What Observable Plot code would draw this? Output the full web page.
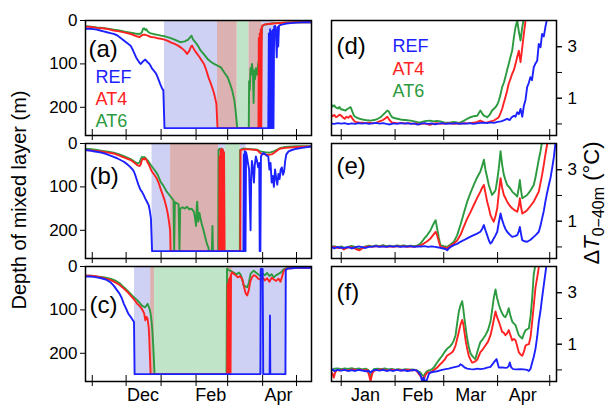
<!DOCTYPE html>
<html><head><meta charset="utf-8">
<script src="https://cdn.jsdelivr.net/npm/d3@7"></script>
<script src="https://cdn.jsdelivr.net/npm/@observablehq/plot@0.6"></script>
<style>
body{margin:0;background:#fff;}
#chart{position:relative;width:610px;height:416px;overflow:hidden;font-family:"Liberation Sans",Arial,sans-serif;color:#000;}
#chart svg{position:absolute;}
.vlab{position:absolute;white-space:nowrap;transform:translate(-50%,-50%) rotate(-90deg);}
</style></head><body><div id="chart"></div>
<script>
// ---- data (day numbers: 0 = 1 Jan; values: depth in m or ΔT in °C) ----
const seriesNames = ["REF", "AT4", "AT6"];
const seriesColors = {REF: "#1c22ff", AT4: "#ff2222", AT6: "#2c9a3e"};
const shadeColors = {REF: "#cfd1f4", AT4: "#dcb1b1", AT6: "#bfe4c7"};
const maxDepth = 248;
const panelTags = ["(a)", "(b)", "(c)", "(d)", "(e)", "(f)"];
const leftTickDays = [-61, -31, 0, 31, 59, 90, 120];
const rightTickDays = [0, 31, 59, 90, 120];
const leftMonthNames = ["Dec", "Feb", "Apr"];
const leftMonthDays = [-16, 44, 104];
const rightMonthNames = ["Jan", "Feb", "Mar", "Apr"];
const rightMonthDays = [14, 44, 74.5, 104.5];
const depthTicks = [0, 100, 200];
const dtTicks = [0, 1, 2, 3];
const dtLabelTicks = [1, 3];

// panel (a) mixed-layer depth
const refA = [[-67,19],[-63,19],[-60,20],[-57,21],[-54,23],[-51,25],[-48,27],[-45,29],[-42,31],[-39,34],[-37,38],[-35,42],[-33,46],[-31,50],[-29,54],[-27,58],[-26,63],[-25,68],[-24,74],[-23,80],[-22,86],[-21,90],[-20,94],[-19,98],[-18,100],[-17,97],[-16,94],[-15,92],[-14,90],[-13,93],[-12,96],[-11,98],[-10,101],[-9,106],[-8,111],[-7,114],[-6,117],[-5,120],[-4,125],[-3,131],[-2,138],[-1,145],[0,151],[1,157],[2,161],[3,248],[95,248],[95.5,30],[96,248],[96.6,20],[97.2,248],[97.8,25],[98.4,248],[99,22],[99.6,248],[100.2,14],[101,12],[101.8,35],[102.5,85],[103.1,15],[103.8,60],[104.5,12],[106,10],[108,9],[111,7],[115,6],[120,5],[126,4],[133,4]];
const at4A = [[-67,14],[-62,15],[-57,17],[-52,18],[-47,20],[-42,23],[-37,25],[-32,28],[-27,31],[-24,34],[-21,37],[-19,38],[-18,36],[-17,34],[-16,33],[-15,33],[-14,33],[-12,35],[-9,38],[-6,39],[-3,41],[0,42],[3,44],[6,47],[9,51],[12,54],[15,58],[18,63],[21,70],[23,77],[25,70],[26.5,60],[27.5,58],[28.5,63],[30,70],[32,77],[34,84],[36,92],[38,100],[40,114],[42,131],[44,145],[46,160],[47,169],[48,180],[49,192],[50,248],[86.3,248],[86.6,40],[87,248],[87.4,30],[87.8,248],[88.3,20],[88.8,248],[89.3,14],[90,11],[92,9],[95,8],[100,7],[110,5],[120,4],[133,4]];
const at6A = [[-67,13],[-62,14],[-57,16],[-52,17],[-47,19],[-42,21],[-37,23],[-32,26],[-27,28],[-23,30],[-20,31],[-18,30],[-17,27],[-16,19],[-15,18],[-14,22],[-13,20],[-12,25],[-10,29],[-7,31],[-3,33],[0,35],[4,37],[8,40],[12,44],[17,50],[21,48],[24,44],[26,38],[27,35],[28,42],[29,46],[31,52],[33,60],[35,69],[38,78],[41,88],[44,95],[47,100],[50,104],[53,108],[56,120],[59,131],[61,145],[63,161],[65,185],[66,207],[67.5,248],[77.7,248],[78,140],[78.6,160],[79.2,110],[79.8,125],[80.5,100],[81.3,115],[82,190],[82.6,115],[83.3,135],[84,110],[85,125],[86,100],[87,90],[88,70],[89,40],[89.6,14],[91,10],[95,8],[100,6],[110,5],[120,4],[133,4]];
const shadeA = [[3,50,"REF"],[50,67.5,"AT4"],[67.5,77.7,"AT6"],[77.7,89.3,"AT4"],[89.3,100.2,"REF"]];

// panel (b)
const refB = [[-67,15],[-63,16],[-60,18],[-57,19],[-53,21],[-49,24],[-45,28],[-42,31],[-39,34],[-36,38],[-33,42],[-30,48],[-27,55],[-25,61],[-24,65],[-23,72],[-22,80],[-21,88],[-20,96],[-19,102],[-18,108],[-17,111],[-16,116],[-15,121],[-14,127],[-13,132],[-12,137],[-11,142],[-10,155],[-9,173],[-8,248],[73,248],[73.4,25],[73.8,248],[74.3,18],[74.8,248],[75.3,20],[76,28],[77,45],[78,60],[78.7,140],[79.3,200],[79.8,90],[80.5,40],[81.5,60],[82.3,90],[83,50],[84,30],[85,40],[86,55],[87,45],[87.4,248],[88,248],[88.5,30],[89.5,25],[90.5,22],[92,24],[93.5,28],[95,30],[96,60],[97,45],[98,90],[99,75],[100,100],[101,60],[102,80],[103,95],[104,70],[105,82],[106,60],[107,55],[108,72],[109,65],[110,40],[111,25],[113,18],[116,15],[120,12],[125,10],[133,7]];
const at4B = [[-67,15],[-62,16],[-57,17],[-52,19],[-47,21],[-42,23],[-37,28],[-32,33],[-27,38],[-24,44],[-21,50],[-19,52],[-18,48],[-17,38],[-16,35],[-15,37],[-14,34],[-13,38],[-12,44],[-11,48],[-10,54],[-9,60],[-8,65],[-6,72],[-4,80],[-2,92],[-0.5,104],[1,115],[3,130],[5,150],[6,163],[7,180],[8,200],[8.4,248],[51.5,248],[51.8,30],[52.3,248],[52.7,15],[53.3,248],[53.8,12],[54.3,248],[54.8,15],[55.3,248],[55.8,20],[56.3,248],[70.2,248],[70.4,15],[72,14],[75,13],[80,14],[85,15],[87,20],[89,24],[92,25],[95,26],[98,25],[100,22],[102,18],[105,12],[110,10],[120,8],[133,7]];
const at6B = [[-67,12],[-62,13],[-57,15],[-52,17],[-47,19],[-42,21],[-37,25],[-32,30],[-27,36],[-24,41],[-21,46],[-19,44],[-18,36],[-17,31],[-16,33],[-15,31],[-14,33],[-13,36],[-11,42],[-9,50],[-7,57],[-5,64],[-3,72],[-0.5,88],[2,97],[5,111],[8,121],[11,131],[11.6,248],[12.2,135],[14,138],[15.5,140],[16.3,248],[16.9,150],[19,147],[21,150],[23,146],[25,152],[27,150],[29,157],[30,170],[31,190],[31.6,145],[32,134],[33,180],[34,160],[35,173],[36,185],[38,204],[39,215],[40,225],[41,234],[42,240],[42.3,248],[45,248],[45.5,190],[46,248],[50.6,248],[50.9,15],[51.8,12],[52.8,15],[53.8,12],[54.8,15],[55.6,248],[69.8,248],[70,15],[72,12],[75,12],[80,13],[85,14],[88,18],[92,20],[96,21],[100,18],[103,14],[106,10],[110,8],[120,6],[133,6]];
const shadeB = [[-8,8.4,"REF"],[8.4,51,"AT4"],[51,57,"REF"],[57,70.2,"AT6"],[70.2,75.3,"REF"]];

// panel (c)
const refC = [[-67,23],[-63,23],[-60,24],[-57,25],[-53,27],[-49,30],[-45,36],[-42,44],[-39,55],[-37,62],[-35,72],[-33,86],[-31,97],[-29,109],[-27,116],[-26,120],[-25,124],[-24,128],[-23.5,248],[88,248],[88.3,6],[89,5],[90,6],[90.3,130],[90.5,248],[96.2,248],[96.5,113],[96.8,248],[110.2,248],[110.5,8],[112,5],[116,4],[120,3],[126,3],[133,3]];
const at4C = [[-67,21],[-63,21],[-60,22],[-57,23],[-53,25],[-49,28],[-45,31],[-41,36],[-37,42],[-33,51],[-30,58],[-27,67],[-24,76],[-21,86],[-19,91],[-17,98],[-15,108],[-14,124],[-13,116],[-12,120],[-11,140],[-10.5,163],[-10,200],[-9.3,248],[58.6,248],[59,40],[59.5,248],[60,30],[60.5,248],[61,25],[61.5,248],[62,20],[63,13],[64,16],[66,20],[68,25],[70,22],[72,30],[73.3,45],[75,62],[76.3,67],[77.7,55],[79,35],[80.5,25],[82.2,20],[84,22],[86,28],[88,30],[90,25],[92,32],[94,27],[96,35],[98,26],[100,30],[102,33],[104,28],[105.8,35],[107,25],[108.8,10],[111,5],[115,4],[120,3],[133,3]];
const at6C = [[-67,21],[-63,21],[-60,22],[-57,23],[-53,24],[-49,26],[-45,28],[-41,32],[-37,38],[-33,48],[-30,55],[-27,63],[-24,71],[-21,78],[-19,84],[-17,90],[-15,93],[-14,94],[-13,90],[-12,86],[-11,92],[-10,100],[-9.3,109],[-8.5,125],[-7.8,147],[-7,180],[-6.4,215],[-5.8,248],[58,248],[58.4,5],[60,8],[61.5,10],[63,12],[65,15],[67,18],[69,14],[70.4,18],[72,30],[73.3,44],[75,46],[76.3,48],[77.7,38],[79.3,17],[81,12],[82.2,10],[84,14],[86,18],[88,22],[90,16],[92,20],[94,15],[96,22],[98,18],[100,25],[102,20],[104,17],[106,14],[108.8,6],[111,4],[115,3],[120,3],[133,3]];
const shadeC = [[-23.5,-9.3,"REF"],[-9.3,-5.8,"AT4"],[-5.8,58.6,"AT6"],[58.6,63,"AT4"],[63,110.3,"REF"]];

// panel (d) ΔT 0-40 m
const refD = [[-6,0.02],[-4,0.0],[-2,0.03],[0,0.01],[2,0.03],[4,-0.01],[6,0.02],[8,0.0],[10,0.03],[12,0.01],[14,0.03],[16,0.0],[18,0.02],[20,0.04],[22,0.01],[24,0.03],[26,0.0],[28,-0.02],[30,0.02],[32,0.0],[34,0.03],[36,0.01],[38,0.03],[40,0.0],[42,0.02],[44,-0.03],[46,0.01],[48,0.03],[50,0.0],[52,0.02],[54,-0.02],[56,0.01],[58,0.03],[60,0.0],[62,0.02],[64,0.01],[66,0.03],[68,0.0],[70,0.02],[72,0.01],[74,0.03],[76,0.0],[78,0.02],[80,0.04],[82,0.05],[84,0.03],[86,0.06],[88,0.04],[90,0.08],[92,0.1],[93.5,0.14],[95.5,0.2],[97,0.15],[98,0.25],[99.4,0.32],[100.3,0.28],[101.3,0.45],[102.2,0.38],[103.2,0.58],[104.2,0.28],[105.1,0.7],[106.1,0.95],[107,1.43],[108,1.6],[108.9,1.82],[109.8,1.7],[110.8,2.2],[111.8,2.35],[112.8,2.46],[113.7,3.11],[114.7,2.98],[115.6,3.5],[116.6,3.4],[117.5,3.76],[118.5,4.1],[120,4.5]];
const at4D = [[-6,0.39],[-5,0.3],[-4,0.35],[-3,0.26],[-2,0.3],[-1,0.36],[0,0.32],[1,0.25],[2,0.2],[3,0.28],[4,0.24],[5.4,0.32],[6.5,0.2],[8,0.08],[10,0.06],[12,0.05],[14,0.03],[16,0.05],[18,0.02],[20,0.04],[22,0.1],[24,0.15],[25.5,0.22],[26.5,0.28],[27.5,0.18],[29,0.06],[31,0.04],[33,0.02],[35,0.04],[37,0.01],[39,0.03],[41,0.0],[43,0.02],[45,-0.02],[47,0.02],[49,0.0],[51,-0.04],[53,0.01],[55,0.03],[57,0.0],[59,0.02],[61,0.01],[63,0.03],[65,0.0],[67,0.02],[69,0.01],[71,0.03],[73,0.02],[75,0.04],[77,0.06],[78.3,0.08],[80,0.13],[81,0.1],[82.5,0.05],[84,0.06],[86,0.1],[87.8,0.13],[89,0.18],[90.7,0.26],[91.7,0.42],[92.6,0.58],[93.5,0.8],[94.5,1.04],[95.5,1.3],[96.4,1.56],[97.4,1.75],[98.4,1.95],[99.4,2.1],[100.3,2.33],[101.3,2.6],[102.2,2.85],[103.2,2.4],[104.2,2.98],[105.1,3.5],[106.1,4.02],[107,4.4]];
const at6D = [[-6,0.78],[-5,0.68],[-4,0.72],[-3.3,0.65],[-2,0.6],[-1,0.66],[-0.4,0.58],[1,0.55],[2.5,0.52],[3.5,0.58],[4.5,0.62],[5.4,0.65],[6.3,0.5],[7.3,0.32],[9,0.24],[11.1,0.19],[13,0.16],[15,0.14],[16.9,0.13],[19,0.15],[21,0.2],[22.6,0.26],[24,0.35],[25.5,0.45],[26.5,0.52],[27.4,0.48],[28.4,0.35],[29.3,0.26],[31,0.22],[33,0.19],[35,0.16],[37,0.15],[39.9,0.13],[42,0.1],[44,0.07],[45.6,0.06],[47,0.09],[49,0.12],[51.4,0.13],[53,0.1],[55,0.12],[57.1,0.1],[59,0.06],[61,0.05],[62.9,0.06],[65,0.08],[67,0.05],[68.6,0.06],[70.5,0.12],[72.5,0.2],[74.4,0.26],[76.3,0.3],[78.3,0.32],[79.2,0.42],[80.1,0.52],[81,0.42],[82.1,0.32],[84,0.26],[85.4,0.35],[86.8,0.52],[88.8,0.65],[89.8,0.75],[90.7,0.9],[91.7,1.15],[92.6,1.43],[93.6,1.6],[94.5,1.82],[95.5,2.1],[96.4,2.33],[97.4,2.6],[98.4,2.85],[99.4,3.37],[100.3,3.76],[101.3,4.02],[102.2,3.6],[103.2,3.24],[104.2,3.76],[105.1,4.1],[106,4.4]];

// panel (e)
const refE = [[-6,-0.05],[-5,-0.02],[-4,-0.06],[-3,-0.03],[-2,0.0],[-1,-0.04],[0,-0.02],[1,-0.05],[2,-0.03],[4,-0.01],[6,-0.06],[8,-0.02],[10,0.02],[12,-0.01],[14,-0.04],[16,0.0],[18,0.01],[20,0.03],[22,0.0],[24,0.02],[26,0.0],[28,0.03],[30,0.01],[32,0.03],[34,0.0],[36,0.02],[38,0.01],[40,0.03],[42,0.0],[44,0.02],[46,0.01],[48,0.03],[50,0.0],[52,0.02],[54,0.0],[56,-0.02],[58,-0.05],[60,-0.08],[61,-0.13],[62,-0.05],[63,0.0],[64.8,0.07],[66.7,0.12],[68.6,0.2],[70.5,0.26],[72.5,0.33],[74.4,0.4],[76.3,0.46],[78.2,0.52],[80.1,0.59],[81.1,0.7],[82.1,0.85],[83,0.65],[84,0.46],[85,0.25],[85.9,0.13],[86.8,0.2],[87.8,0.33],[88.8,0.45],[89.8,0.59],[90.7,0.95],[91.7,1.3],[92.6,1.05],[93.6,0.85],[94.5,0.7],[95.5,0.59],[97,0.48],[98.4,0.39],[100,0.42],[101.3,0.46],[102.2,0.6],[102.8,0.78],[103.5,0.5],[104.2,0.26],[105.5,0.22],[107,0.2],[109,0.28],[110.8,0.39],[112.2,0.48],[113.7,0.59],[114.6,0.8],[115.6,1.1],[116.6,1.4],[117.5,1.76],[118.5,2.1],[119.5,2.41],[120.5,2.7],[121.4,3.06],[122.4,3.5],[123.3,4.04]];
const at4E = [[-6,-0.02],[-4,0.0],[-2,-0.04],[0,-0.02],[1.5,-0.1],[3,-0.05],[5,0.0],[7,-0.04],[9,-0.1],[10.5,-0.13],[12,-0.06],[14,0.0],[16,0.02],[18,0.0],[20,0.03],[22,0.01],[24,0.03],[26,0.0],[28,0.02],[30,0.0],[32,0.03],[34,0.01],[36,0.03],[38,0.0],[40,0.02],[42,0.0],[44,0.03],[45.6,0.05],[47.5,0.13],[49.5,0.22],[51.4,0.33],[52.4,0.42],[53.3,0.5],[54.3,0.59],[55.2,0.45],[56.2,0.2],[57.1,0.0],[59,-0.02],[61,-0.05],[63,0.05],[64.8,0.13],[66.7,0.25],[68.6,0.46],[70.5,0.78],[72.5,1.1],[74.4,1.35],[76.3,1.63],[78.2,1.9],[80.1,2.15],[81.1,2.3],[82.1,2.41],[83,2.1],[84,1.76],[85,1.5],[85.9,1.24],[86.8,1.1],[87.8,0.98],[88.8,1.2],[89.8,1.5],[90.7,2.1],[91.7,2.67],[92.6,2.3],[93.6,2.02],[94.5,1.9],[95.5,1.76],[97,1.6],[98.4,1.5],[100,1.42],[101.3,1.37],[102.2,1.6],[102.8,1.89],[103.5,1.55],[104.2,1.3],[105.5,1.35],[107,1.43],[109,1.6],[110.8,1.76],[112.2,1.95],[113.7,2.15],[114.6,2.45],[115.6,2.8],[116.6,3.2],[117.5,3.59],[118.5,3.98],[119.5,4.3]];
const at6E = [[-6,0.0],[-4,0.03],[-2,-0.02],[0,0.02],[2,-0.05],[4,0.0],[6,0.04],[8,0.0],[10,-0.08],[12,-0.04],[14,0.02],[16,0.05],[18,0.02],[20,0.06],[22,0.03],[24,0.07],[26,0.03],[28,0.05],[30,0.02],[32,0.06],[34,0.04],[36,0.06],[38,0.03],[40,0.05],[42,0.03],[44,0.06],[45.6,0.13],[47.5,0.3],[49.5,0.46],[51.4,0.65],[52.3,0.78],[53.3,0.92],[54.3,1.04],[55.2,0.72],[56.2,0.35],[57.1,0.07],[59,0.03],[61,0.0],[63,0.1],[64.8,0.2],[66.7,0.45],[68.6,0.85],[70.5,1.3],[72.5,1.76],[74.4,2.1],[76.3,2.41],[78.2,2.7],[80.1,2.93],[81.1,3.15],[82.1,3.39],[83,3.0],[84,2.7],[84.9,2.41],[85.9,2.2],[86.8,2.02],[87.8,2.1],[88.8,2.2],[89.8,2.6],[90.7,3.06],[91.7,3.72],[92.6,3.2],[93.6,2.8],[94.5,2.6],[95.5,2.41],[97,2.3],[98.4,2.15],[100,2.05],[101.3,1.96],[102.2,2.3],[102.8,2.6],[103.5,2.2],[104.2,1.89],[105.5,1.95],[107,2.02],[109,2.2],[110.8,2.41],[111.8,2.7],[112.8,3.06],[113.7,3.4],[114.7,3.72],[115.6,4.1]];

// panel (f)
const refF = [[-6,-0.04],[-5,0.02],[-4,-0.05],[-3,-0.02],[-2,0.0],[0,-0.03],[2,0.0],[4,-0.04],[6,-0.01],[8,-0.04],[10,0.0],[12,-0.02],[14,-0.05],[16,-0.04],[16.9,-0.1],[18,-0.03],[20,0.0],[22,-0.03],[24,0.0],[26,-0.04],[28,-0.01],[30,-0.04],[32,0.0],[34,-0.03],[36,-0.01],[38,-0.04],[40,-0.02],[42,0.0],[44,-0.05],[45.6,-0.2],[46.6,-0.45],[47.5,-0.3],[48.5,-0.5],[49.5,-0.35],[50.5,-0.15],[51.4,-0.1],[53.3,-0.07],[55.2,-0.05],[57,-0.02],[58.1,0.0],[60,0.03],[61.8,0.05],[63.9,0.09],[65.8,0.12],[67.7,0.15],[68.6,0.22],[69.6,0.18],[70.9,0.1],[72.5,0.05],[74.4,0.03],[76.3,0.02],[78.3,0.05],[80.1,0.03],[82.1,0.05],[84,0.09],[85.9,0.12],[87.8,0.29],[89.4,0.42],[90.7,0.09],[92.6,0.1],[94.5,0.08],[95.5,0.09],[96.4,0.15],[97,0.29],[97.8,0.1],[99,0.03],[101,0.02],[103,0.03],[105,0.02],[107,0.0],[108,-0.04],[109,0.05],[109.9,0.29],[110.8,0.5],[111.8,0.82],[112.8,1.3],[113.7,1.88],[114.7,2.3],[115.6,2.8],[116.2,3.1],[116.9,3.46],[118.1,4.06],[119,4.5]];
const at4F = [[-6,-0.05],[-5,-0.15],[-4.3,-0.3],[-3.5,-0.1],[-2.4,0.0],[-1,-0.03],[1,0.01],[3,-0.02],[5,0.0],[7,0.02],[9,-0.01],[11,0.01],[13,-0.02],[15,0.0],[16,-0.2],[16.9,-0.44],[17.8,-0.15],[18.8,-0.04],[21,0.0],[23,0.02],[25,0.0],[27,-0.02],[29,0.01],[31,-0.01],[33,0.01],[35,-0.02],[37,0.0],[39,0.01],[41,-0.02],[43,0.0],[45.6,-0.24],[46.6,-0.3],[47.5,-0.37],[48.5,-0.2],[49.5,-0.1],[51.4,-0.1],[53.3,0.0],[55.2,0.09],[56.6,0.2],[58.1,0.29],[59.5,0.4],[60.9,0.55],[62.4,0.62],[63.9,0.69],[64.8,0.78],[65.8,0.95],[66.7,1.2],[67.7,1.48],[68.6,1.75],[69.6,1.94],[70.2,1.8],[70.9,1.48],[71.7,1.1],[72.5,0.82],[73.4,0.55],[74.4,0.4],[75.3,0.29],[76.3,0.3],[77.2,0.33],[78.3,0.4],[79.2,0.55],[80.1,0.69],[81.5,0.8],[83,0.95],[84.5,1.1],[85.9,1.35],[86.8,1.6],[87.8,1.95],[88.8,2.27],[89.7,2.05],[90.7,1.88],[91.6,1.7],[92.6,1.48],[93.5,1.45],[94.5,1.35],[95.5,1.42],[96.4,1.55],[97.4,1.35],[98.4,1.15],[99.4,1.2],[100.3,1.15],[101.2,0.95],[102.2,0.69],[103.2,0.6],[104.2,0.55],[105.1,0.7],[106.1,0.95],[107,0.98],[108,1.0],[109,1.3],[109.9,1.88],[110.8,2.5],[111.8,3.2],[112.8,3.6],[113.7,3.99],[114.7,4.4]];
const at6F = [[-6,0.04],[-5,0.0],[-4,0.05],[-2,0.06],[0,0.03],[2,0.06],[4,0.04],[6,0.07],[8,0.03],[10,0.06],[12,0.02],[14,0.05],[15.5,0.0],[16.9,-0.3],[18,-0.05],[19,0.04],[21,0.05],[23,0.03],[25,0.06],[27,0.02],[29,0.04],[31,0.01],[33,0.03],[35,0.0],[37,0.03],[39,0.01],[41,0.02],[43,0.0],[45.6,-0.1],[46.6,-0.2],[47.5,-0.24],[48.5,-0.12],[49.5,-0.05],[51.4,0.0],[52.3,0.03],[53.3,0.1],[55.2,0.29],[56.6,0.42],[58.1,0.55],[59.5,0.7],[60.9,0.82],[62.4,0.9],[63.9,1.02],[64.8,1.15],[65.8,1.35],[66.7,1.8],[67.7,2.27],[68.6,2.5],[69.6,2.67],[70.2,2.4],[70.9,2.0],[71.7,1.6],[72.5,1.22],[73.4,0.9],[74.4,0.65],[75.3,0.55],[76.3,0.48],[77.2,0.42],[78.3,0.7],[79.2,0.9],[80.1,1.08],[81.5,1.2],[83,1.35],[84.5,1.55],[85.9,1.88],[86.8,2.3],[87.8,2.8],[88.8,3.13],[89.7,2.8],[90.7,2.54],[91.6,2.35],[92.6,2.2],[93.5,2.1],[94.5,2.05],[95.5,2.2],[96.4,2.4],[97.4,2.1],[98.4,1.88],[99.4,1.8],[100.3,1.74],[101.2,1.55],[102.2,1.35],[103.2,1.28],[104.2,1.22],[105.1,1.4],[106.1,1.55],[107,1.58],[108,1.62],[109,2.1],[109.9,2.8],[110.8,3.72],[111.8,4.1]];

// ---- drawing ----
const base = Date.UTC(2001, 0, 1);
const toDate = d => new Date(base + d * 864e5);
const chart = document.getElementById("chart");
const font = "Liberation Sans, Arial, sans-serif";

const rowTops = [20, 143, 266];
const frameH = 115;

function panel({side, row, series, shades, tag, tagDx, tagDy, legend}) {
  const left = side === "L";
  const ml = left ? 50 : 4, mr = left ? 4 : 34, mt = 2, mb = 30;
  const frameLeft = left ? 85 : 331, frameW = left ? 226 : 225;
  const xDom = left ? [-67, 133.3] : [-5.6, 123.9];
  const bottom = row === 2;
  const marks = [];
  if (shades) {
    for (const k of seriesNames) {
      marks.push(Plot.rect(shades.filter(s => s[2] === k), {
        x1: d => toDate(d[0]), x2: d => toDate(d[1]), y1: 0, y2: maxDepth, fill: shadeColors[k]
      }));
    }
  }
  for (const k of ["AT6", "AT4", "REF"]) {
    marks.push(Plot.line(series[k], {x: d => toDate(d[0]), y: d => d[1], stroke: seriesColors[k], strokeWidth: 1.9, clip: true}));
  }
  marks.push(Plot.frame({stroke: "black", strokeWidth: 1.5}));
  if (left) {
    marks.push(Plot.axisY({ticks: depthTicks, tickSize: 5, tickPadding: 3, fontSize: 17, label: null}));
  } else {
    marks.push(Plot.axisY({anchor: "right", ticks: dtTicks, tickSize: 5, fill: "none", label: null}));
    marks.push(Plot.axisY({anchor: "right", ticks: dtLabelTicks, tickSize: 5, tickPadding: 6, fontSize: 17, tickFormat: d => String(d), label: null}));
  }
  marks.push(Plot.axisX({anchor: "bottom", ticks: (left ? leftTickDays : rightTickDays).map(toDate), tickSize: 11, dy: -6, fill: "none", label: null}));
  if (bottom) {
    const names = left ? leftMonthNames : rightMonthNames;
    const days = left ? leftMonthDays : rightMonthDays;
    marks.push(Plot.text(names, {x: (d, i) => toDate(days[i]), text: d => d, frameAnchor: "bottom", dy: 19, fontSize: 18}));
  }
  marks.push(Plot.text([tag], {frameAnchor: "top-left", dx: tagDx, dy: tagDy, fontSize: 24, lineAnchor: "top"}));
  if (legend) {
    seriesNames.forEach((n, i) => {
      marks.push(Plot.text([n], {frameAnchor: "top-left", dx: legend.dx, dy: legend.dy + i * legend.step, fontSize: 18, lineAnchor: "middle", fill: seriesColors[n]}));
    });
  }
  const svg = Plot.plot({
    width: ml + frameW + mr, height: mt + frameH + mb,
    marginLeft: ml, marginRight: mr, marginTop: mt, marginBottom: mb,
    x: {type: "utc", domain: xDom.map(toDate)},
    y: {domain: left ? [265, 0] : [-0.45, 4.02]},
    style: {background: "transparent", overflow: "visible", fontFamily: font, color: "black"},
    marks
  });
  svg.style.left = (frameLeft - ml) + "px";
  svg.style.top = (rowTops[row] - mt) + "px";
  chart.appendChild(svg);
}

panel({side: "L", row: 0, series: {REF: refA, AT4: at4A, AT6: at6A}, shades: shadeA, tag: panelTags[0], tagDx: 3, tagDy: 19, legend: {dx: 10, dy: 57, step: 22}});
panel({side: "L", row: 1, series: {REF: refB, AT4: at4B, AT6: at6B}, shades: shadeB, tag: panelTags[1], tagDx: 4, tagDy: 23});
panel({side: "L", row: 2, series: {REF: refC, AT4: at4C, AT6: at6C}, shades: shadeC, tag: panelTags[2], tagDx: 4, tagDy: 29});
panel({side: "R", row: 0, series: {REF: refD, AT4: at4D, AT6: at6D}, tag: panelTags[3], tagDx: 5, tagDy: 16, legend: {dx: 61, dy: 26, step: 22.5}});
panel({side: "R", row: 1, series: {REF: refE, AT4: at4E, AT6: at6E}, tag: panelTags[4], tagDx: 5, tagDy: 13});
panel({side: "R", row: 2, series: {REF: refF, AT4: at4F, AT6: at6F}, tag: panelTags[5], tagDx: 5, tagDy: 16});

const yl = document.createElement("div");
yl.className = "vlab";
yl.style.cssText += "left:19px;top:200px;font-size:20px;";
yl.textContent = "Depth of mixed layer (m)";
chart.appendChild(yl);

const yr = document.createElement("div");
yr.className = "vlab";
yr.style.cssText += "left:594px;top:203px;font-size:22px;line-height:1;";
yr.innerHTML = "Δ<i>T</i><sub style='font-size:16px;line-height:1'>0−40m</sub> (°C)";
chart.appendChild(yr);
</script>
</body></html>
